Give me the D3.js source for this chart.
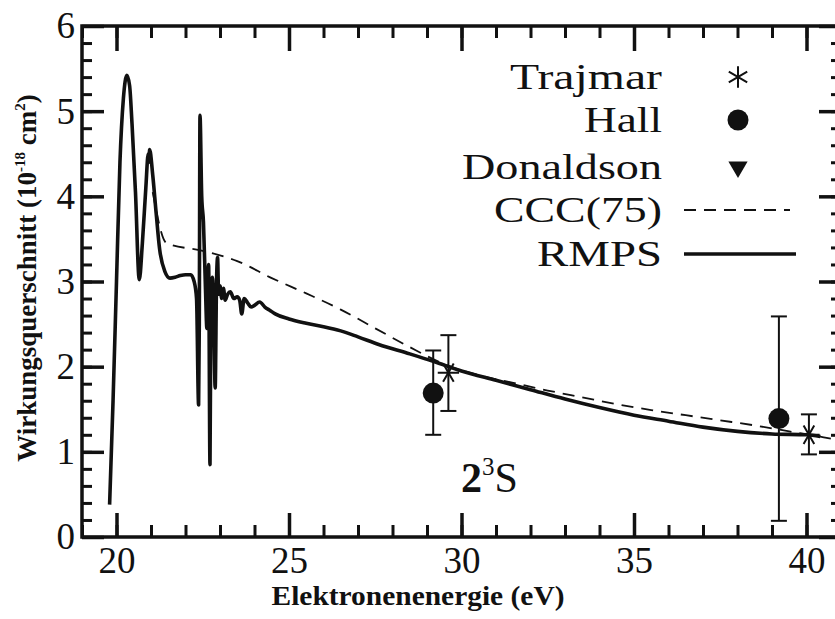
<!DOCTYPE html>
<html><head><meta charset="utf-8">
<script src="https://cdn.jsdelivr.net/npm/d3@7"></script>
</head><body style="margin:0"><svg id="c" width="835" height="619" style="display:block" font-family="Liberation Serif"></svg>
<script>
// ---- data ----
const rmpsEnergy = [19.80,19.90,20.00,20.10,20.20,20.30,20.38,20.45,20.55,20.66,20.75,20.85,20.92,20.94,20.96,21.05,21.15,21.25,21.40,21.55,21.70,21.85,22.00,22.15,22.25,22.32,22.38,22.40,22.42,22.47,22.52,22.58,22.62,22.67,22.71,22.74,22.78,22.82,22.86,22.90,22.93,22.96,23.00,23.05,23.10,23.15,23.22,23.30,23.40,23.50,23.57,23.63,23.70,23.80,23.90,24.00,24.15,24.30,24.45,24.60,25.00,25.50,26.00,26.50,27.00,27.60,28.50,29.20,30.00,31.00,32.00,33.00,34.00,35.00,36.00,37.00,38.00,39.00,40.00,40.40];
const rmpsValue = [0.38,1.6,3.0,4.4,5.15,5.42,5.30,4.85,4.05,3.02,3.45,4.10,4.50,4.40,4.55,4.25,3.80,3.38,3.12,3.04,3.05,3.07,3.08,3.08,3.0,2.8,1.55,2.5,4.95,4.0,3.70,2.9,2.45,3.2,0.85,2.9,3.05,2.6,1.75,3.0,3.28,2.85,2.95,2.80,2.92,2.78,2.85,2.88,2.80,2.82,2.78,2.62,2.80,2.75,2.70,2.72,2.76,2.70,2.66,2.62,2.56,2.51,2.47,2.42,2.35,2.26,2.15,2.06,1.95,1.84,1.73,1.62,1.52,1.43,1.36,1.29,1.24,1.21,1.20,1.18];
const cccEnergy = [21.05,21.45,22.5,23.5,24.5,25.5,26.5,27.5,28.5,29.5,30.5,31.5,32.5,33.5,34.5,35.5,36.5,37.5,38.5,39.5,40.5,41.0];
const cccValue = [4.05,3.45,3.36,3.24,3.04,2.86,2.67,2.45,2.23,2.03,1.90,1.81,1.72,1.64,1.56,1.49,1.43,1.37,1.31,1.24,1.17,1.13];
const trajmarEnergy = [29.62, 40.07];
const trajmarValue = [1.93, 1.20];
const trajmarLow = [1.48, 0.97];
const trajmarHigh = [2.37, 1.44];
const hallEnergy = [29.18, 39.20];
const hallValue = [1.69, 1.39];
const hallLow = [1.20, 0.19];
const hallHigh = [2.19, 2.59];
const donaldsonEnergy = [];
const donaldsonValue = [];
const xTicks = [20, 25, 30, 35, 40];
const yTicks = [0, 1, 2, 3, 4, 5, 6];
const legendLabels = ["Trajmar", "Hall", "Donaldson", "CCC(75)", "RMPS"];

// ---- chart ----
const FONT = "Liberation Serif";
const svg = d3.select("#c");
const x = d3.scaleLinear().domain([19, 41]).range([82, 841]);
const y = d3.scaleLinear().domain([0, 6]).range([537, 26]);
const X0 = 82, X1 = 841, Y0 = 537, Y1 = 26;

function styleAxis(g, sw) {
  g.select(".domain").remove();
  g.attr("font-family", FONT);
  g.selectAll(".tick line").attr("stroke", "#111").attr("stroke-width", sw);
  g.selectAll(".tick text").attr("font-family", FONT).style("font-family", FONT).attr("font-size", 37).attr("fill", "#111");
}
// minor ticks
svg.append("g").attr("transform", `translate(0,${Y0})`)
  .call(d3.axisBottom(x).tickValues(d3.range(19, 42)).tickSize(-12).tickFormat(""))
  .call(g => styleAxis(g, 3));
svg.append("g").attr("transform", `translate(0,${Y1})`)
  .call(d3.axisTop(x).tickValues(d3.range(19, 42)).tickSize(-12).tickFormat(""))
  .call(g => styleAxis(g, 3));
const yMinor = d3.range(0, 31).map(i => i * 0.2);
svg.append("g").attr("transform", `translate(${X0},0)`)
  .call(d3.axisLeft(y).tickValues(yMinor).tickSize(-10).tickFormat(""))
  .call(g => styleAxis(g, 3));
svg.append("g").attr("transform", `translate(${X1},0)`)
  .call(d3.axisRight(y).tickValues(yMinor).tickSize(-10).tickFormat(""))
  .call(g => styleAxis(g, 3));
// major ticks
svg.append("g").attr("transform", `translate(0,${Y0})`)
  .call(d3.axisBottom(x).tickValues(xTicks).tickSizeInner(-24).tickSizeOuter(0).tickPadding(10).tickFormat(d3.format("d")))
  .call(g => styleAxis(g, 3.5));
svg.append("g").attr("transform", `translate(0,${Y1})`)
  .call(d3.axisTop(x).tickValues(xTicks).tickSize(-25).tickFormat(""))
  .call(g => styleAxis(g, 3.5));
svg.append("g").attr("transform", `translate(${X0},0)`)
  .call(d3.axisLeft(y).tickValues(yTicks).tickSizeInner(-22).tickSizeOuter(0).tickPadding(7).tickFormat(d3.format("d")))
  .call(g => styleAxis(g, 3.5));
svg.append("g").attr("transform", `translate(${X1},0)`)
  .call(d3.axisRight(y).tickValues(yTicks).tickSize(-22).tickFormat(""))
  .call(g => styleAxis(g, 3.5));

// frame
svg.append("rect").attr("x", X0).attr("y", Y1).attr("width", X1 - X0).attr("height", Y0 - Y1)
  .attr("fill", "none").attr("stroke", "#111").attr("stroke-width", 3.5);

// clip
svg.append("clipPath").attr("id", "clip").append("rect")
  .attr("x", X0).attr("y", Y1).attr("width", X1 - X0).attr("height", Y0 - Y1);
const plot = svg.append("g").attr("clip-path", "url(#clip)");

const line = d3.line().x(d => x(d[0])).y(d => y(d[1])).curve(d3.curveMonotoneX);
plot.append("path").datum(cccEnergy.map((e, i) => [e, cccValue[i]]))
  .attr("d", line).attr("fill", "none").attr("stroke", "#111").attr("stroke-width", 1.8)
  .attr("stroke-dasharray", "12,8");
plot.append("path").datum(rmpsEnergy.map((e, i) => [e, rmpsValue[i]]))
  .attr("d", line).attr("fill", "none").attr("stroke", "#111").attr("stroke-width", 3.6)
  .attr("stroke-linejoin", "round");

// error bars
function errBars(E, lo, hi) {
  const g = plot.append("g").attr("stroke", "#111").attr("stroke-width", 2);
  E.forEach((e, i) => {
    g.append("line").attr("x1", x(e)).attr("x2", x(e)).attr("y1", y(lo[i])).attr("y2", y(hi[i]));
    [lo[i], hi[i]].forEach(v => g.append("line").attr("x1", x(e) - 8).attr("x2", x(e) + 8).attr("y1", y(v)).attr("y2", y(v)));
  });
}
errBars(hallEnergy, hallLow, hallHigh);
errBars(trajmarEnergy, trajmarLow, trajmarHigh);

const asterisk = d3.symbol().type(d3.symbolAsterisk).size(320);
const tri = d3.symbol().type(d3.symbolTriangle).size(160);
plot.selectAll(".hall").data(hallEnergy.map((e, i) => [e, hallValue[i]])).join("circle")
  .attr("cx", d => x(d[0])).attr("cy", d => y(d[1])).attr("r", 10.5).attr("fill", "#111");
plot.selectAll(".traj").data(trajmarEnergy.map((e, i) => [e, trajmarValue[i]])).join("path")
  .attr("transform", d => `translate(${x(d[0])},${y(d[1])}) rotate(90)`).attr("d", asterisk)
  .attr("fill", "none").attr("stroke", "#111").attr("stroke-width", 2);
plot.selectAll(".don").data(donaldsonEnergy.map((e, i) => [e, donaldsonValue[i]])).join("path")
  .attr("transform", d => `translate(${x(d[0])},${y(d[1])}) rotate(180)`).attr("d", tri).attr("fill", "#111");

// legend
const lg = svg.append("g");
const rowY = [77, 120, 167, 210, 254];
const legendWidth = [152, 78, 200, 168, 125];
legendLabels.forEach((t, i) => {
  lg.append("text").attr("x", 662).attr("y", rowY[i]).attr("dy", "0.34em").attr("text-anchor", "end")
    .attr("font-family", FONT).style("font-family", FONT).attr("font-size", 35).attr("fill", "#111")
    .attr("textLength", legendWidth[i]).attr("lengthAdjust", "spacingAndGlyphs").text(t);
});
const sx = 738;
lg.append("path").attr("transform", `translate(${sx},${rowY[0]})`).attr("d", asterisk)
  .attr("fill", "none").attr("stroke", "#111").attr("stroke-width", 2);
lg.append("circle").attr("cx", sx).attr("cy", rowY[1]).attr("r", 10.5).attr("fill", "#111");
lg.append("path").attr("transform", `translate(${sx},${rowY[2]}) rotate(180)`).attr("d", tri).attr("fill", "#111");
lg.append("line").attr("x1", 684).attr("x2", 790).attr("y1", rowY[3]).attr("y2", rowY[3])
  .attr("stroke", "#111").attr("stroke-width", 1.8).attr("stroke-dasharray", "12,8");
lg.append("line").attr("x1", 684).attr("x2", 796).attr("y1", rowY[4]).attr("y2", rowY[4])
  .attr("stroke", "#111").attr("stroke-width", 3.6);

// state label 2^3S
const st = svg.append("text").attr("x", 461).attr("y", 492).attr("font-family", FONT).style("font-family", FONT).attr("font-size", 42).attr("fill", "#111");
st.append("tspan").attr("font-weight", "bold").text("2");
st.append("tspan").attr("font-size", 25).attr("dy", -17).text("3");
st.append("tspan").attr("dy", 17).text("S");

// axis titles
svg.append("text").attr("x", 418).attr("y", 605).attr("text-anchor", "middle")
  .attr("font-family", FONT).style("font-family", FONT).attr("font-weight", "bold").attr("font-size", 27).attr("fill", "#111")
  .attr("textLength", 293).attr("lengthAdjust", "spacingAndGlyphs")
  .text("Elektronenenergie (eV)");
const yt = svg.append("text").attr("transform", "translate(36,278) rotate(-90)").attr("text-anchor", "middle")
  .attr("font-family", FONT).style("font-family", FONT).attr("font-weight", "bold").attr("font-size", 27).attr("fill", "#111");
yt.append("tspan").text("Wirkungsquerschnitt (10");
yt.append("tspan").attr("font-size", 15).attr("dy", -11).text("-18");
yt.append("tspan").attr("dy", 11).text(" cm");
yt.append("tspan").attr("font-size", 15).attr("dy", -11).text("2");
yt.append("tspan").attr("dy", 11).text(")");
</script></body></html>
